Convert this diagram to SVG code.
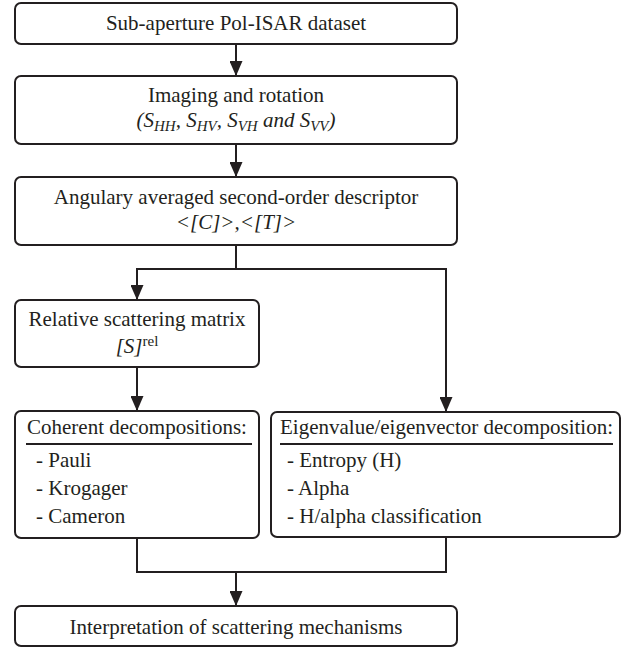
<svg xmlns="http://www.w3.org/2000/svg" width="633" height="648" viewBox="0 0 633 648">
<style>
.box{fill:#fff;stroke:#231f20;stroke-width:2}
.ln{fill:none;stroke:#231f20;stroke-width:2}
text{font-family:"Liberation Serif","Times New Roman",serif;font-size:21px;fill:#231f20}
.c{text-anchor:middle}
.i{font-style:italic}
.sub{font-size:15px}
</style>
<defs>
<marker id="ah" markerUnits="userSpaceOnUse" markerWidth="15" markerHeight="13" refX="15" refY="6.5" orient="auto">
<path d="M0,0 L15,6.5 L0,13 z" fill="#231f20"/>
</marker>
</defs>
<g id="connectors">
<line class="ln" x1="236" y1="44" x2="236" y2="76" marker-end="url(#ah)"/>
<line class="ln" x1="236" y1="144" x2="236" y2="177" marker-end="url(#ah)"/>
<polyline class="ln" points="236,245 236,269"/>
<polyline class="ln" points="137,269 446,269"/>
<line class="ln" x1="137" y1="268" x2="137" y2="300" marker-end="url(#ah)"/>
<line class="ln" x1="446" y1="268" x2="446" y2="412" marker-end="url(#ah)"/>
<line class="ln" x1="137" y1="367" x2="137" y2="411" marker-end="url(#ah)"/>
<polyline class="ln" points="137,538 137,572 446,572 446,537"/>
<line class="ln" x1="236" y1="572" x2="236" y2="606" marker-end="url(#ah)"/>
</g>
<g id="n1">
<rect class="box" x="15" y="3" width="442" height="41" rx="6"/>
<text class="c" x="236" y="30">Sub-aperture Pol-ISAR dataset</text>
</g>
<g id="n2">
<rect class="box" x="15" y="76" width="442" height="68" rx="6"/>
<text class="c" x="236" y="102">Imaging and rotation</text>
<text class="c i" x="236" y="127">(S<tspan class="sub" dy="4">HH</tspan><tspan dy="-4">, S</tspan><tspan class="sub" dy="4">HV</tspan><tspan dy="-4">, S</tspan><tspan class="sub" dy="4">VH</tspan><tspan dy="-4"> and S</tspan><tspan class="sub" dy="4">VV</tspan><tspan dy="-4">)</tspan></text>
</g>
<g id="n3">
<rect class="box" x="15" y="177" width="442" height="68" rx="6"/>
<text class="c" x="236" y="204">Angulary averaged second-order descriptor</text>
<text class="c i" x="236" y="229">&lt;[C]&gt;,&lt;[T]&gt;</text>
</g>
<g id="n4">
<rect class="box" x="15" y="300" width="244" height="67" rx="6"/>
<text class="c" x="137" y="326">Relative scattering matrix</text>
<text class="c" x="137" y="353"><tspan class="i">[S]</tspan><tspan class="sub" dy="-7">rel</tspan></text>
</g>
<g id="n5">
<rect class="box" x="15" y="411" width="244" height="127" rx="6"/>
<text x="27" y="434">Coherent decompositions:</text>
<line class="ln" x1="26" y1="444" x2="252" y2="444"/>
<text x="36" y="467">- Pauli</text>
<text x="36" y="495">- Krogager</text>
<text x="36" y="523">- Cameron</text>
</g>
<g id="n6">
<rect class="box" x="271" y="412" width="349" height="125" rx="6"/>
<text x="280" y="434">Eigenvalue/eigenvector decomposition:</text>
<line class="ln" x1="280" y1="444" x2="613" y2="444"/>
<text x="287" y="467">- Entropy (H)</text>
<text x="287" y="495">- Alpha</text>
<text x="287" y="523">- H/alpha classification</text>
</g>
<g id="n7">
<rect class="box" x="15" y="606" width="442" height="40" rx="6"/>
<text class="c" x="236" y="634">Interpretation of scattering mechanisms</text>
</g>
</svg>
